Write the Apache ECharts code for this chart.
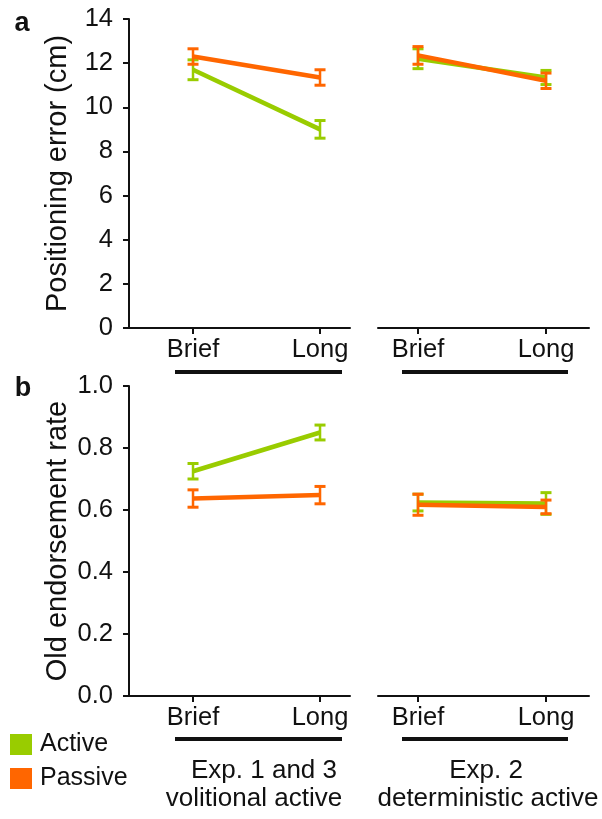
<!DOCTYPE html>
<html>
<head>
<meta charset="utf-8">
<script src="https://cdn.jsdelivr.net/npm/echarts@6/dist/echarts.min.js"></script>
<style>
  html, body { margin: 0; padding: 0; background: #fff; }
  #chart { width: 602px; height: 819px; }
</style>
</head>
<body>
<div id="chart"></div>
<script>
// conditions on the x axis (0 = Brief, 1 = Long)
var conditions = ['Brief', 'Long'];
var seriesNames = ['Active', 'Passive'];
var colors = ['#99cc00', '#ff6600'];

// a: positioning error (cm), mean and error bar half-length
var posActiveExp13 = [11.7, 9.0];
var posActiveExp13Err = [0.45, 0.4];
var posPassiveExp13 = [12.3, 11.35];
var posPassiveExp13Err = [0.35, 0.35];
var posActiveExp2 = [12.2, 11.35];
var posActiveExp2Err = [0.45, 0.32];
var posPassiveExp2 = [12.35, 11.2];
var posPassiveExp2Err = [0.4, 0.35];

// b: old endorsement rate
var oldActiveExp13 = [0.725, 0.85];
var oldActiveExp13Err = [0.025, 0.024];
var oldPassiveExp13 = [0.637, 0.648];
var oldPassiveExp13Err = [0.028, 0.028];
var oldActiveExp2 = [0.624, 0.621];
var oldActiveExp2Err = [0.027, 0.035];
var oldPassiveExp2 = [0.617, 0.61];
var oldPassiveExp2Err = [0.034, 0.022];

var posTicks = [0, 14, 2];
var oldTicks = [0, 1, 0.2];

var groupLines = [['Exp. 1 and 3', 'volitional active'], ['Exp. 2', 'deterministic active']];

var font = '"Liberation Sans", Arial, Helvetica, sans-serif';
var ink = '#111';

var grids = [
  {left: 129, top: 19, width: 221, height: 309},
  {left: 378, top: 19, width: 211, height: 309},
  {left: 129, top: 386, width: 221, height: 310},
  {left: 378, top: 386, width: 211, height: 310}
];
var xRanges = [[-0.504, 1.236], [-0.3125, 1.336], [-0.504, 1.236], [-0.3125, 1.336]];

function makeX(i) {
  return {
    type: 'value', gridIndex: i, min: xRanges[i][0], max: xRanges[i][1],
    splitLine: {show: false},
    axisLine: {show: true, onZero: false, lineStyle: {color: ink, width: 2}},
    axisTick: {show: true, customValues: [0, 1], length: 6, lineStyle: {color: ink, width: 2}},
    axisLabel: {
      show: true, customValues: [0, 1], margin: 9,
      fontSize: 25.5, fontFamily: font, color: ink,
      formatter: function (v) { return conditions[Math.round(v)]; }
    }
  };
}

function makeY(i, ticks, name, fmt) {
  var left = (i % 2 === 0);
  return {
    type: 'value', gridIndex: i, min: ticks[0], max: ticks[1], interval: ticks[2],
    splitLine: {show: false},
    name: left ? name : '', nameLocation: 'middle', nameGap: 57,
    nameTextStyle: {fontSize: 29, fontFamily: font, color: ink},
    axisLine: {show: left, onZero: false, lineStyle: {color: ink, width: 2}},
    axisTick: {show: left, length: 6, lineStyle: {color: ink, width: 2}},
    axisLabel: {show: left, margin: 16, fontSize: 25.5, fontFamily: font, color: ink, formatter: fmt}
  };
}

function lineSeries(k, gi, values) {
  return {
    type: 'line', name: seriesNames[k], xAxisIndex: gi, yAxisIndex: gi,
    data: values.map(function (v, i) { return [i, v]; }),
    symbol: 'none', showSymbol: false, silent: true,
    lineStyle: {color: colors[k], width: 4.5},
    itemStyle: {color: colors[k]},
    z: 2 + k * 2
  };
}

function errSeries(k, gi, values, errs) {
  var color = colors[k];
  return {
    type: 'custom', name: seriesNames[k], xAxisIndex: gi, yAxisIndex: gi,
    data: values.map(function (v, i) { return [i, v - errs[i], v + errs[i]]; }),
    itemStyle: {color: color}, silent: true,
    z: 3 + k * 2,
    renderItem: function (params, api) {
      var lo = api.coord([api.value(0), api.value(1)]);
      var hi = api.coord([api.value(0), api.value(2)]);
      var w = 5.5;
      return {
        type: 'group',
        children: [
          {type: 'line', shape: {x1: lo[0], y1: lo[1], x2: hi[0], y2: hi[1]}, style: {stroke: color, lineWidth: 2.5}},
          {type: 'line', shape: {x1: lo[0] - w, y1: lo[1], x2: lo[0] + w, y2: lo[1]}, style: {stroke: color, lineWidth: 3}},
          {type: 'line', shape: {x1: hi[0] - w, y1: hi[1], x2: hi[0] + w, y2: hi[1]}, style: {stroke: color, lineWidth: 3}}
        ]
      };
    }
  };
}

var series = [
  lineSeries(0, 0, posActiveExp13), errSeries(0, 0, posActiveExp13, posActiveExp13Err),
  lineSeries(1, 0, posPassiveExp13), errSeries(1, 0, posPassiveExp13, posPassiveExp13Err),
  lineSeries(0, 1, posActiveExp2), errSeries(0, 1, posActiveExp2, posActiveExp2Err),
  lineSeries(1, 1, posPassiveExp2), errSeries(1, 1, posPassiveExp2, posPassiveExp2Err),
  lineSeries(0, 2, oldActiveExp13), errSeries(0, 2, oldActiveExp13, oldActiveExp13Err),
  lineSeries(1, 2, oldPassiveExp13), errSeries(1, 2, oldPassiveExp13, oldPassiveExp13Err),
  lineSeries(0, 3, oldActiveExp2), errSeries(0, 3, oldActiveExp2, oldActiveExp2Err),
  lineSeries(1, 3, oldPassiveExp2), errSeries(1, 3, oldPassiveExp2, oldPassiveExp2Err)
];

function bar(x1, x2, y) {
  return {type: 'rect', shape: {x: x1, y: y, width: x2 - x1, height: 4}, style: {fill: ink}};
}
function label(text, x, y, opts) {
  return {
    type: 'text', x: x, y: y,
    style: Object.assign({text: text, fontSize: 26, fontFamily: font, fill: ink, align: 'center', verticalAlign: 'middle'}, opts || {})
  };
}

var option = {
  animation: false,
  backgroundColor: '#fff',
  grid: grids,
  xAxis: [makeX(0), makeX(1), makeX(2), makeX(3)],
  yAxis: [
    makeY(0, posTicks, 'Positioning error (cm)', function (v) { return String(v); }),
    makeY(1, posTicks, '', null),
    makeY(2, oldTicks, 'Old endorsement rate', function (v) { return v.toFixed(1); }),
    makeY(3, oldTicks, '', null)
  ],
  legend: {
    orient: 'vertical', left: 10, top: 732, padding: 0,
    itemWidth: 22, itemHeight: 21, itemGap: 9,
    selectedMode: false,
    textStyle: {fontSize: 25, fontFamily: font, color: ink, padding: [0, 0, 0, 3]},
    data: [
      {name: seriesNames[0], icon: 'rect', itemStyle: {color: colors[0], borderWidth: 0}},
      {name: seriesNames[1], icon: 'rect', itemStyle: {color: colors[1], borderWidth: 0}}
    ]
  },
  graphic: [
    label('a', 22, 24, {fontWeight: 'bold', fontSize: 27}),
    label('b', 23, 389, {fontWeight: 'bold', fontSize: 27}),
    bar(175, 342, 370),
    bar(402, 568, 370),
    bar(175, 342, 737),
    bar(402, 568, 737),
    label(groupLines[0][0], 264, 771),
    label(groupLines[0][1], 254, 799),
    label(groupLines[1][0], 486, 771),
    label(groupLines[1][1], 488, 799)
  ],
  series: series
};

var myChart = echarts.init(document.getElementById('chart'), null, {renderer: 'canvas'});
myChart.setOption(option);
</script>
</body>
</html>
